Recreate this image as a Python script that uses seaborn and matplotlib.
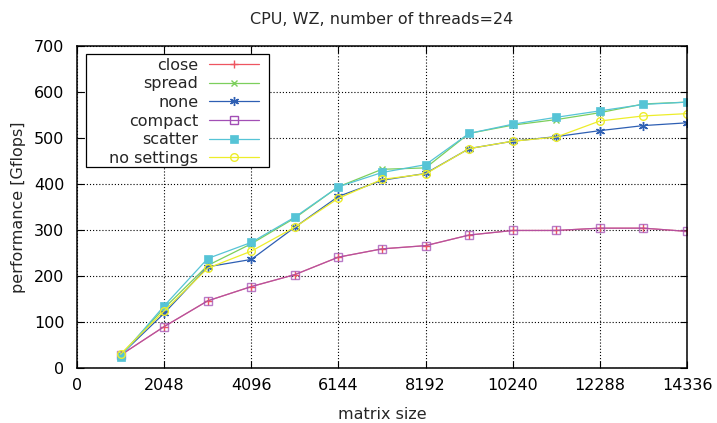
import matplotlib
matplotlib.use("Agg")
import matplotlib.pyplot as plt
from matplotlib.patches import Rectangle
import seaborn as sns
import pandas as pd

sizes = [1024, 2048, 3072, 4096, 5120, 6144, 7168, 8192, 9216, 10240, 11264, 12288, 13312, 14336]
close = [28, 90, 146, 177, 203, 241, 259, 266, 289, 299, 299, 304, 304, 297]
spread = [28, 130, 223, 270, 326, 394, 432, 435, 510, 528, 540, 555, 574, 578]
none = [28, 119, 220, 236, 306, 373, 408, 423, 477, 493, 503, 516, 527, 533]
compact = [28, 90, 146, 177, 203, 241, 259, 266, 289, 299, 299, 304, 304, 297]
scatter = [25, 135, 238, 273, 328, 394, 425, 442, 510, 530, 545, 559, 573, 578]
no_settings = [30, 124, 217, 254, 306, 369, 410, 422, 477, 493, 502, 537, 548, 553]

labels = ["close", "spread", "none", "compact", "scatter", "no settings"]
xticks = [0, 2048, 4096, 6144, 8192, 10240, 12288, 14336]
yticks = [0, 100, 200, 300, 400, 500, 600, 700]

sns.set_style("ticks")
plt.rcParams["font.family"] = ["DejaVu Sans"]
FS = 11.5
plt.rcParams["font.size"] = FS

W, H = 717, 423
fig = plt.figure(figsize=(W / 100, H / 100), dpi=100)
ax = fig.add_axes([77 / W, 1 - 368 / H, 610 / W, 322 / H])

series = [close, spread, none, compact, scatter, no_settings]
colors = ["#ee5560", "#7ccf5c", "#2e5fb3", "#a24fb5", "#56c4d6", "#eded2a"]
styles = [
    dict(marker="+", markersize=6, markeredgewidth=1.0),
    dict(marker="x", markersize=5, markeredgewidth=1.0),
    dict(marker=(6, 2, 0), markersize=6.5, markeredgewidth=1.0),
    dict(marker="s", markersize=5.5, markerfacecolor="none", markeredgewidth=1.0),
    dict(marker="s", markersize=5.5, markeredgewidth=0.5),
    dict(marker="o", markersize=5.5, markerfacecolor="none", markeredgewidth=1.0),
]
alphas = [1.0, 1.0, 1.0, 0.75, 1.0, 1.0]

for vals, lab, col, st, al in zip(series, labels, colors, styles, alphas):
    df = pd.DataFrame({"size": sizes, "perf": vals})
    sns.lineplot(data=df, x="size", y="perf", ax=ax, color=col, label=lab,
                 linewidth=0.9, alpha=al, markeredgecolor=col, **st)

ax.set_xlim(0, 14336)
ax.set_ylim(0, 700)
ax.set_xticks(xticks)
ax.set_yticks(yticks)
ax.grid(True, color="black", linestyle=(0, (1, 1.8)), linewidth=0.8)
ax.tick_params(direction="in", length=5, width=0.8, top=True, right=True,
               labelsize=FS, colors="black")
ax.tick_params(axis="x", pad=7)
ax.tick_params(axis="y", pad=9)
for sp in ax.spines.values():
    sp.set_color("black")
    sp.set_linewidth(1.1)

ax.set_xlabel("matrix size", fontsize=FS, labelpad=10)
ax.set_ylabel("performance [Gflops]", fontsize=FS, labelpad=6)
ax.set_title("CPU, WZ, number of threads=24", fontsize=FS, pad=16)

leg = ax.legend(loc="upper right", bbox_to_anchor=(259 / W, 1 - 57.5 / H),
                bbox_transform=fig.transFigure, markerfirst=False,
                frameon=False, fontsize=FS, handlelength=3.1, labelspacing=0.23,
                borderpad=0, handletextpad=0.7, borderaxespad=0)
for line in leg.get_lines():
    line.set_alpha(1.0)

frame = Rectangle((85.5 / W, 1 - 167 / H), (269 - 85.5) / W, (167 - 54.5) / H,
                  transform=fig.transFigure, fill=True, facecolor="white",
                  edgecolor="black", linewidth=0.9, zorder=4)
ax.add_patch(frame)
frame.set_clip_on(False)
leg.set_zorder(5)

fig.savefig("out.png", dpi=100)
